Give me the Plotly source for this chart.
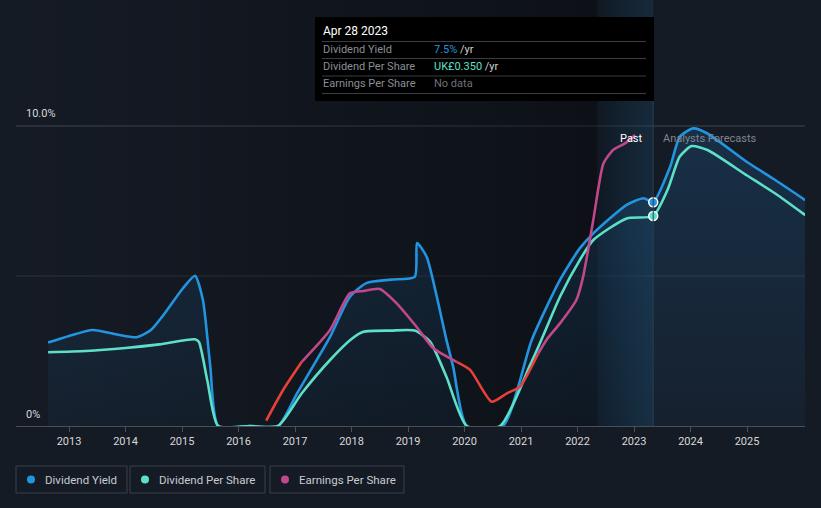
import plotly.graph_objects as go

# ---------------- data ----------------
yield_x = [2012.63, 2013.0, 2013.42, 2013.85, 2014.2, 2014.45, 2014.66, 2015.02, 2015.23, 2015.37,
           2015.5, 2015.64, 2016.2, 2016.7, 2017.04, 2017.62, 2017.97, 2018.27, 2018.7, 2019.12,
           2019.16, 2019.33, 2019.51, 2019.68, 2019.8, 2020.04, 2020.68, 2021.19, 2021.69, 2022.04,
           2022.28, 2022.87, 2023.17, 2023.34, 2023.64, 2023.81, 2024.05, 2024.3, 2025.0, 2025.5, 2026.03]
yield_y = [2.78, 3.0, 3.2, 3.05, 2.96, 3.2, 3.67, 4.6, 5.01, 4.2,
           2.0, 0, 0, 0, 1.1, 2.97, 4.3, 4.77, 4.88, 4.97,
           6.1, 5.64, 4.31, 2.87, 1.97, 0, 0, 2.87, 4.87, 5.92,
           6.42, 7.37, 7.59, 7.46, 8.64, 9.64, 9.92, 9.75, 8.8, 8.2, 7.53]

dps_x = [2012.63, 2013.3, 2014.0, 2014.6, 2015.23, 2015.3, 2015.45, 2015.64, 2016.2, 2016.7,
         2017.12, 2017.62, 2018.0, 2018.21, 2018.7, 2019.12, 2019.39, 2019.68, 2020.04, 2020.63,
         2021.16, 2021.36, 2021.69, 2022.04, 2022.28, 2022.87, 2023.34, 2023.6, 2023.81, 2024.02,
         2024.3, 2025.0, 2025.5, 2026.03]
dps_y = [2.46, 2.5, 2.6, 2.72, 2.89, 2.8, 1.5, 0, 0, 0,
         1.09, 2.2, 2.9, 3.14, 3.18, 3.18, 2.81, 1.64, 0, 0,
         2.03, 2.87, 4.31, 5.53, 6.2, 6.92, 7.0, 7.9, 8.98, 9.33,
         9.2, 8.35, 7.75, 7.03]

eps_x = [2016.49, 2016.79, 2017.12, 2017.62, 2017.97, 2018.2, 2018.5, 2018.8, 2019.15, 2019.45,
         2019.86, 2020.1, 2020.48, 2020.75, 2020.98, 2021.3, 2021.45, 2021.69, 2021.98, 2022.1,
         2022.28, 2022.46, 2022.63, 2022.84, 2023.02]
eps_y = [0.18, 1.2, 2.14, 3.2, 4.42, 4.5, 4.57, 4.09, 3.31, 2.59,
         2.14, 1.87, 0.81, 1.09, 1.31, 2.4, 2.87, 3.42, 4.2, 4.98,
         6.87, 8.76, 9.2, 9.42, 9.7]
# index ranges where EPS is drawn red (declining) vs magenta
eps_red_ranges = [(0, 2), (10, 15)]
eps_mag_ranges = [(2, 10), (15, 24)]

years = list(range(2013, 2026))
year_labels = [str(y) for y in years]
y_labels = ["0%", "10.0%"]
today_x = 2023.34
past_start = 2022.35

tooltip_date = "Apr 28 2023"
tooltip_yield = "7.5%"
tooltip_dps = "UK£0.350"

# ---------------- style ----------------
BG = "#151b25"
BLUE = "#2394df"
TEAL = "#5ee0c8"
MAG = "#c0478a"
RED = "#e5403c"
FONT = "Roboto"

PL, PR, PT, PB = 16, 805, 0, 426
W, H = 821, 508
XMIN = 2013 - (69 - PL) / 56.5
XMAX = 2013 + (PR - 69) / 56.5
YMAX = (PB - PT) / 30.0


def px(x):
    return (x - PL) / (PR - PL)


def py(y):
    return (PB - y) / (PB - PT)


fig = go.Figure()

# darker "past" background gradient
fig.add_trace(go.Scatter(
    x=[XMIN, past_start, past_start, XMIN, XMIN], y=[0, 0, YMAX, YMAX, 0],
    fill="toself", mode="lines", line=dict(width=0), hoverinfo="skip", showlegend=False,
    fillgradient=dict(type="horizontal",
                      colorscale=[[0, "rgba(0,0,0,0)"], [1, "rgba(0,0,0,0.38)"]])))
# highlighted recent past band
fig.add_trace(go.Scatter(
    x=[past_start, today_x, today_x, past_start, past_start], y=[0, 0, YMAX, YMAX, 0],
    fill="toself", mode="lines", line=dict(width=0), hoverinfo="skip", showlegend=False,
    fillgradient=dict(type="horizontal",
                      colorscale=[[0, "rgba(8,20,30,0.45)"], [1, "rgba(25,70,100,0.35)"]])))

# dividend yield fill + line
fig.add_trace(go.Scatter(
    x=yield_x, y=yield_y, mode="lines", fill="tozeroy",
    line=dict(color=BLUE, width=2.6, shape="spline", smoothing=0.6),
    fillgradient=dict(type="vertical",
                      colorscale=[[0, "rgba(35,120,190,0.06)"], [1, "rgba(35,120,190,0.22)"]]),
    hoverinfo="skip", showlegend=False))

fig.add_trace(go.Scatter(
    x=dps_x, y=dps_y, mode="lines",
    line=dict(color=TEAL, width=2.6, shape="spline", smoothing=0.6),
    hoverinfo="skip", showlegend=False))

for a, b in eps_mag_ranges:
    fig.add_trace(go.Scatter(
        x=eps_x[a:b + 1], y=eps_y[a:b + 1], mode="lines",
        line=dict(color=MAG, width=2.6, shape="spline", smoothing=0.6),
        hoverinfo="skip", showlegend=False))
for a, b in eps_red_ranges:
    fig.add_trace(go.Scatter(
        x=eps_x[a:b + 1], y=eps_y[a:b + 1], mode="lines",
        line=dict(color=RED, width=2.6, shape="spline", smoothing=0.6),
        hoverinfo="skip", showlegend=False))

# markers at today
yi = yield_x.index(today_x)
di = dps_x.index(today_x)
fig.add_trace(go.Scatter(
    x=[today_x, today_x], y=[yield_y[yi], dps_y[di]], mode="markers",
    marker=dict(size=9, color=[BLUE, TEAL], line=dict(color="white", width=1.5)),
    hoverinfo="skip", showlegend=False))

shapes = []
# gridlines
shapes.append(dict(type="line", xref="paper", yref="y", x0=0, x1=1, y0=10, y1=10,
                   line=dict(color="#41464e", width=1), layer="below"))
shapes.append(dict(type="line", xref="paper", yref="y", x0=0, x1=1, y0=5, y1=5,
                   line=dict(color="#2f353d", width=1), layer="below"))
# today vertical line
shapes.append(dict(type="line", xref="x", yref="paper", x0=today_x, x1=today_x,
                   y0=0, y1=py(101), line=dict(color="#2a3d52", width=1)))
# tooltip box
shapes.append(dict(type="rect", xref="paper", yref="paper", x0=px(315), x1=px(654),
                   y0=py(101), y1=py(17), fillcolor="#000000", line=dict(width=0)))
for sy in [41.5, 58.5, 76, 93.5]:
    shapes.append(dict(type="line", xref="paper", yref="paper", x0=px(322), x1=px(646),
                       y0=py(sy), y1=py(sy), line=dict(color="#3a3d42", width=1)))

annotations = []
# y labels
annotations.append(dict(xref="paper", yref="paper", x=px(24), y=py(414), text=y_labels[0],
                        showarrow=False, xanchor="left", yanchor="middle",
                        font=dict(family=FONT, size=11, color="#d8d8d8")))
annotations.append(dict(xref="paper", yref="paper", x=px(24), y=py(114), text=y_labels[1],
                        showarrow=False, xanchor="left", yanchor="middle",
                        font=dict(family=FONT, size=11, color="#d8d8d8")))
# past / forecasts labels
annotations.append(dict(xref="paper", yref="paper", x=px(645), y=py(138), text="Past",
                        showarrow=False, xanchor="right", yanchor="middle",
                        font=dict(family=FONT, size=11, color="#ffffff")))
annotations.append(dict(xref="paper", yref="paper", x=px(661), y=py(138), text="Analysts Forecasts",
                        showarrow=False, xanchor="left", yanchor="middle",
                        font=dict(family=FONT, size=11, color="#80858d")))
# tooltip texts
annotations.append(dict(xref="paper", yref="paper", x=px(321), y=py(31), text=tooltip_date,
                        showarrow=False, xanchor="left", yanchor="middle",
                        font=dict(family=FONT, size=12, color="#ffffff")))
rows = [("Dividend Yield", f"<span style='color:{BLUE}'>{tooltip_yield}</span> /yr", 49.5),
        ("Dividend Per Share", f"<span style='color:{TEAL}'>{tooltip_dps}</span> /yr", 66.5),
        ("Earnings Per Share", "<span style='color:#6d7178'>No data</span>", 84)]
for lab, val, yy in rows:
    annotations.append(dict(xref="paper", yref="paper", x=px(321), y=py(yy), text=lab,
                            showarrow=False, xanchor="left", yanchor="middle",
                            font=dict(family=FONT, size=11, color="#8a8e95")))
    annotations.append(dict(xref="paper", yref="paper", x=px(432), y=py(yy), text=val,
                            showarrow=False, xanchor="left", yanchor="middle",
                            font=dict(family=FONT, size=11, color="#d0d0d0")))

# legend
legend_items = [("Dividend Yield", BLUE, 16, 127), ("Dividend Per Share", TEAL, 130, 265),
                ("Earnings Per Share", MAG, 270, 404)]
for name, col, x0, x1 in legend_items:
    shapes.append(dict(type="rect", xref="paper", yref="paper", x0=px(x0), x1=px(x1),
                       y0=py(493), y1=py(466), line=dict(color="#3b4048", width=1),
                       fillcolor="rgba(0,0,0,0)"))
    cx = x0 + 15
    shapes.append(dict(type="circle", xref="paper", yref="paper", x0=px(cx - 4), x1=px(cx + 4),
                       y0=py(483.5), y1=py(475.5), fillcolor=col, line=dict(width=0)))
    annotations.append(dict(xref="paper", yref="paper", x=px(x0 + 27), y=py(479.5), text=name,
                            showarrow=False, xanchor="left", yanchor="middle",
                            font=dict(family=FONT, size=11.5, color="#c8cbd0")))

fig.update_layout(
    width=W, height=H,
    margin=dict(l=PL, r=W - PR, t=PT, b=H - PB),
    paper_bgcolor=BG, plot_bgcolor=BG,
    shapes=shapes, annotations=annotations,
    showlegend=False,
    xaxis=dict(range=[XMIN, XMAX], showgrid=False, zeroline=False,
               showline=True, linecolor="#4a4f57", linewidth=1,
               ticks="outside", ticklen=5, tickcolor="#4a4f57",
               tickvals=years, ticktext=year_labels,
               tickfont=dict(family=FONT, size=11, color="#d8d8d8")),
    yaxis=dict(range=[0, YMAX], showgrid=False, zeroline=False, showticklabels=False,
               fixedrange=True),
)

fig.write_html("out.html",
               config={"displayModeBar": False},
               post_script="document.body.style.margin='0';document.body.style.background='" + BG + "';")
